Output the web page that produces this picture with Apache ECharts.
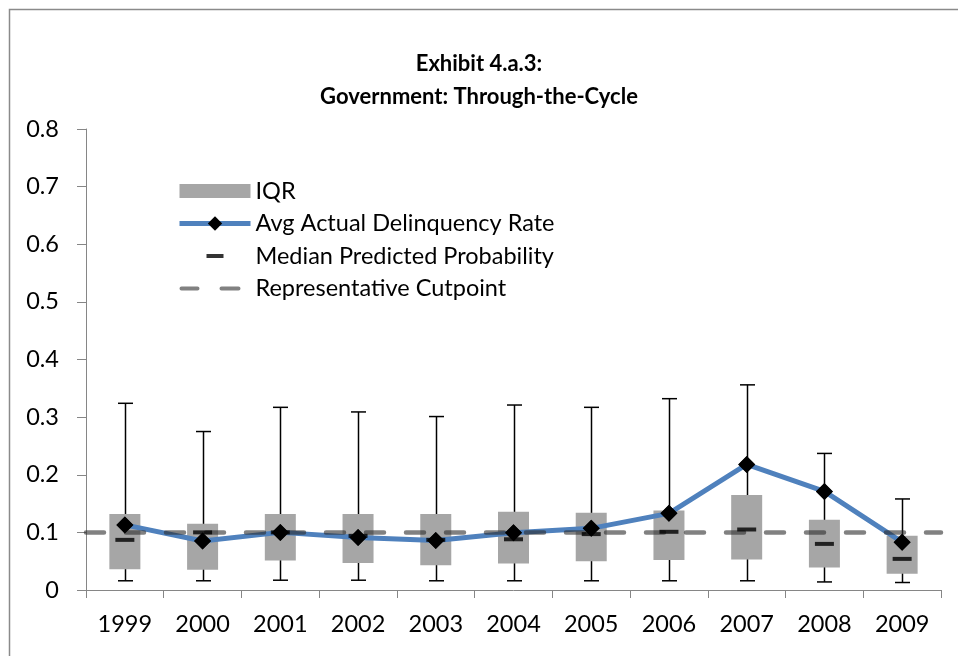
<!DOCTYPE html>
<html>
<head>
<meta charset="utf-8">
<style>
  html, body { margin: 0; padding: 0; background: #fff; }
  #chart { width: 958px; height: 656px; }
</style>
<script src="https://cdn.jsdelivr.net/npm/echarts@6/dist/echarts.min.js"></script>
</head>
<body>
<div id="chart"></div>
<script>
var chart = echarts.init(document.getElementById('chart'));

// data
var years = ['1999', '2000', '2001', '2002', '2003', '2004', '2005', '2006', '2007', '2008', '2009'];
var whiskerLow  = [0.016, 0.016, 0.017, 0.017, 0.016, 0.016, 0.016, 0.016, 0.016, 0.014, 0.013];
var q1          = [0.036, 0.035, 0.051, 0.047, 0.043, 0.046, 0.050, 0.052, 0.053, 0.039, 0.028];
var median      = [0.087, 0.100, 0.100, 0.094, 0.087, 0.088, 0.097, 0.101, 0.105, 0.080, 0.054];
var q3          = [0.132, 0.115, 0.132, 0.132, 0.132, 0.136, 0.134, 0.138, 0.165, 0.122, 0.094];
var whiskerHigh = [0.324, 0.275, 0.317, 0.309, 0.301, 0.321, 0.317, 0.332, 0.356, 0.237, 0.158];
var avgActual   = [0.113, 0.085, 0.100, 0.091, 0.086, 0.0995, 0.107, 0.133, 0.218, 0.171, 0.083];
var cutpoint = 0.1;

var FONT = 'Lato';
var axisGray = '#868686';
var dashColor = 'rgba(45,45,45,0.6)';

var whiskerData = years.map(function (y, i) { return [i, whiskerLow[i], whiskerHigh[i]]; });
var boxData = years.map(function (y, i) { return [i, q1[i], q3[i]]; });

var option = {
    animation: false,
    textStyle: { fontFamily: FONT },
    title: {
        text: 'Exhibit 4.a.3:\nGovernment: Through-the-Cycle',
        left: 'center',
        top: 47,
        padding: 0,
        textStyle: {
            fontFamily: FONT,
            fontSize: 22,
            fontWeight: 'bold',
            color: '#000',
            lineHeight: 33
        }
    },
    graphic: [{
        type: 'rect',
        shape: { x: 9.5, y: 9.5, width: 1000, height: 1000 },
        style: { fill: 'none', stroke: '#8a8a8a', lineWidth: 1.5 },
        silent: true
    }],
    legend: {
        orient: 'vertical',
        left: 177,
        top: 179,
        padding: 0,
        itemWidth: 71,
        itemHeight: 18,
        itemGap: 8.5,
        textStyle: { fontFamily: FONT, fontSize: 23.5, color: '#000', lineHeight: 20 },
        data: [
            { name: 'IQR', icon: 'path://M0,0M71,18M0,2h71v14h-71z' },
            { name: 'Avg Actual Delinquency Rate', lineStyle: { width: 5 } },
            { name: 'Median Predicted Probability', icon: 'path://M0,0M71,18M27,7h17v4h-17z' },
            {
                name: 'Representative Cutpoint',
                icon: 'path://M0,0M71,18M2,7h16a2,2 0 0 1 0,4h-16a2,2 0 0 1 0,-4zM42,7h17a2,2 0 0 1 0,4h-17a2,2 0 0 1 0,-4z'
            }
        ]
    },
    grid: { left: 86, top: 129, right: 17, bottom: 66 },
    xAxis: {
        type: 'category',
        data: years,
        boundaryGap: true,
        axisLine: { lineStyle: { color: axisGray, width: 1 } },
        axisTick: { show: true, length: 8, lineStyle: { color: axisGray } },
        axisLabel: { color: '#000', fontSize: 23.5, fontFamily: FONT, margin: 22 },
        splitLine: { show: false }
    },
    yAxis: {
        type: 'value',
        min: 0,
        max: 0.8,
        interval: 0.1,
        axisLine: { show: true, lineStyle: { color: axisGray, width: 1 } },
        axisTick: { show: true, length: 9, lineStyle: { color: axisGray } },
        axisLabel: { color: '#000', fontSize: 23.5, fontFamily: FONT, margin: 27 },
        splitLine: { show: false }
    },
    series: [
        {
            name: 'whiskers',
            type: 'custom',
            z: 1,
            silent: true,
            data: whiskerData,
            renderItem: function (params, api) {
                var lo = api.coord([api.value(0), api.value(1)]);
                var hi = api.coord([api.value(0), api.value(2)]);
                var x = Math.round(lo[0]) + 0.5;
                var cap = 7.5;
                var st = { stroke: '#000', lineWidth: 1.5 };
                return {
                    type: 'group',
                    children: [
                        { type: 'line', shape: { x1: x, y1: lo[1], x2: x, y2: hi[1] }, style: st },
                        { type: 'line', shape: { x1: x - cap, y1: lo[1], x2: x + cap, y2: lo[1] }, style: st },
                        { type: 'line', shape: { x1: x - cap, y1: hi[1], x2: x + cap, y2: hi[1] }, style: st }
                    ]
                };
            }
        },
        {
            name: 'IQR',
            type: 'custom',
            z: 2,
            itemStyle: { color: '#a6a6a6' },
            data: boxData,
            renderItem: function (params, api) {
                var lo = api.coord([api.value(0), api.value(1)]);
                var hi = api.coord([api.value(0), api.value(2)]);
                var w = 31;
                return {
                    type: 'rect',
                    shape: { x: lo[0] - w / 2, y: hi[1], width: w, height: lo[1] - hi[1] },
                    style: { fill: '#a6a6a6' }
                };
            }
        },
        {
            name: 'Avg Actual Delinquency Rate',
            type: 'line',
            z: 3,
            data: avgActual,
            symbol: 'diamond',
            symbolSize: 17,
            lineStyle: { color: '#4f81bd', width: 5 },
            itemStyle: { color: '#000' }
        },
        {
            name: 'Representative Cutpoint',
            type: 'line',
            z: 4,
            data: [],
            symbol: 'none',
            itemStyle: { color: dashColor },
            lineStyle: { color: dashColor, width: 4.5 },
            markLine: {
                silent: true,
                symbol: 'none',
                label: { show: false },
                lineStyle: { color: dashColor, width: 4.5, type: [18, 22], cap: 'round' },
                data: [{ yAxis: cutpoint }]
            }
        },
        {
            name: 'Median Predicted Probability',
            type: 'scatter',
            z: 5,
            data: median,
            symbol: 'rect',
            symbolSize: [19, 4],
            itemStyle: { color: '#000' }
        },
        {
            name: 'avg markers',
            type: 'scatter',
            z: 6,
            data: avgActual,
            symbol: 'diamond',
            symbolSize: 17,
            itemStyle: { color: '#000' }
        }
    ]
};

chart.setOption(option);
</script>
</body>
</html>
